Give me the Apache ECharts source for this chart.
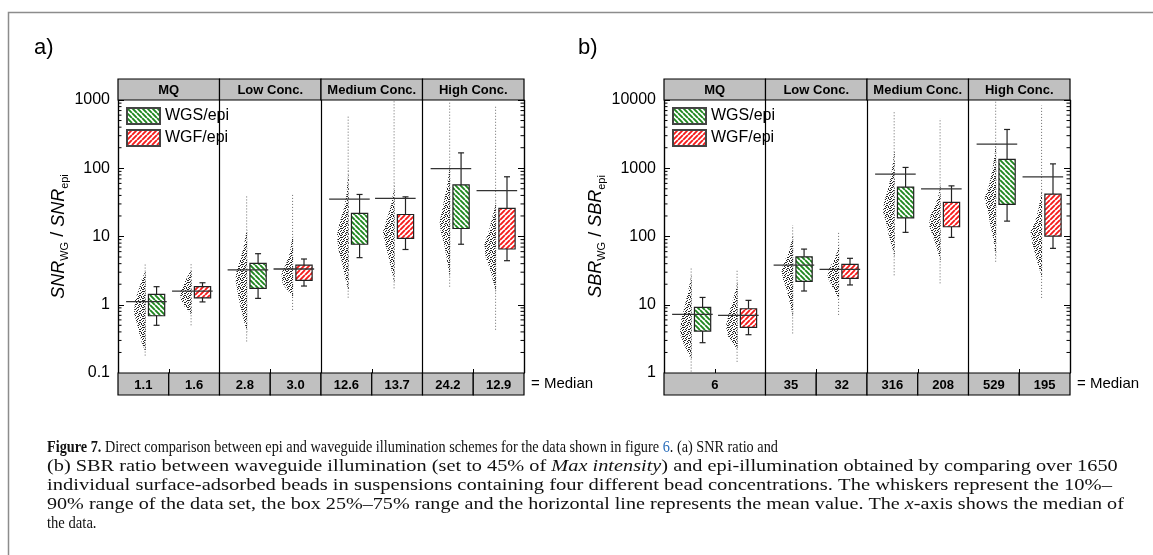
<!DOCTYPE html>
<html>
<head>
<meta charset="utf-8">
<title>Figure 7</title>
<script src="https://cdn.jsdelivr.net/npm/echarts@6/dist/echarts.min.js"></script>
<style>
html, body { margin: 0; padding: 0; background: #fff; }
#main { width: 1153px; height: 555px; }
</style>
</head>
<body>
<div id="main"></div>
<script>
/*****  data  *****/
var groups = ['MQ', 'Low Conc.', 'Medium Conc.', 'High Conc.'];
var names = ['WGS/epi', 'WGF/epi'];

// a) SNR ratio, per concentration: [10%, 25%, 75%, 90%]
var snrWGS = [[0.50, 0.69, 1.42, 1.84], [1.24, 1.74, 4.04, 5.6], [4.9, 7.7, 21.8, 41.3], [7.7, 13.1, 57, 168]];
var snrWGF = [[1.10, 1.26, 1.84, 2.10], [1.88, 2.28, 3.8, 4.68], [6.45, 9.4, 21.0, 38.1], [4.42, 6.56, 25.9, 75]];
var snrMeanWGS = [1.11, 3.25, 35.3, 99];
var snrMeanWGF = [1.58, 3.34, 36.1, 46.9];
var snrMedian = ['1.1', '1.6', '2.8', '3.0', '12.6', '13.7', '24.2', '12.9'];
var snrMedianCells = [[0, 1], [1, 2], [2, 3], [3, 4], [4, 5], [5, 6], [6, 7], [7, 8]];
// bead clouds: [min, max] and outline [value, relative width]
var snrTailWGS = [[0.18, 4.0], [0.29, 40], [1.27, 600], [1.84, 950]];
var snrTailWGF = [[0.5, 4.0], [0.84, 43], [1.74, 1000], [0.43, 800]];
var snrCloudWGS = [
	[[3.2, 0], [2.3, 0.35], [1.64, 0.6], [1.17, 0.9], [0.75, 1.0], [0.53, 0.75], [0.38, 0.55], [0.27, 0.3], [0.2, 0]],
	[[13, 0], [11, 0.1], [7.1, 0.3], [4.5, 0.6], [3.2, 0.9], [2.3, 1.0], [1.64, 0.85], [1.17, 0.7], [0.84, 0.5], [0.6, 0.3], [0.45, 0.1], [0.38, 0]],
	[[100, 0], [79, 0.05], [40, 0.2], [26, 0.4], [16.4, 0.75], [10.5, 1.0], [6.7, 0.9], [4.3, 0.6], [2.7, 0.35], [1.94, 0.15], [1.6, 0]],
	[[120, 0], [88, 0.1], [51, 0.3], [29, 0.6], [16.4, 0.9], [11.7, 0.8], [7.5, 0.5], [4.8, 0.3], [3.0, 0.1], [2.5, 0]]
];
var snrCloudWGF = [
	[[3.3, 0], [2.9, 0.2], [2.3, 0.5], [1.84, 0.8], [1.47, 1.0], [1.17, 0.9], [0.94, 0.6], [0.79, 0.2], [0.7, 0]],
	[[11, 0], [8.9, 0.1], [5.6, 0.3], [4.0, 0.6], [2.9, 1.0], [2.05, 0.9], [1.64, 0.5], [1.38, 0.1], [1.25, 0]],
	[[65, 0], [50, 0.05], [29, 0.3], [18.4, 0.65], [11.7, 1.0], [8.4, 0.85], [5.3, 0.55], [3.4, 0.3], [2.43, 0.1], [2.1, 0]],
	[[35, 0], [27, 0.1], [12.4, 0.6], [7.9, 1.0], [5.0, 0.9], [3.2, 0.5], [2.05, 0.2], [1.5, 0]]
];

// b) SBR ratio
var sbrWGS = [[2.78, 4.12, 9.16, 12.8], [15.9, 22, 50.4, 65.4], [115, 188, 529, 1028], [168, 295, 1346, 3700]];
var sbrWGF = [[3.64, 4.67, 8.74, 11.6], [19.5, 24.4, 39.1, 47.9], [97, 139, 316, 552], [67, 101, 418, 1159]];
var sbrMeanWGS = [7.23, 38.1, 820, 2254];
var sbrMeanWGF = [7.0, 33, 499, 748];
var sbrMedian = ['6', '35', '32', '316', '208', '529', '195'];
var sbrMedianCells = [[0, 2], [2, 3], [3, 4], [4, 5], [5, 6], [6, 7], [7, 8]];
var sbrTailWGS = [[1.05, 34], [3.8, 147], [27, 7000], [42.7, 9500]];
var sbrTailWGF = [[1.46, 32], [7.1, 117], [20.6, 5400], [12.6, 8300]];
var sbrCloudWGS = [
	[[28, 0], [23, 0.1], [14.7, 0.35], [9.4, 0.6], [6.0, 0.9], [3.8, 1.0], [2.7, 0.7], [1.94, 0.3], [1.5, 0]],
	[[110, 0], [89, 0.1], [63, 0.35], [45, 0.7], [32, 1.0], [23, 0.85], [16.4, 0.55], [11.7, 0.35], [8.4, 0.15], [6.5, 0]],
	[[2000, 0], [1390, 0.1], [793, 0.3], [506, 0.55], [322, 0.9], [230, 1.0], [164, 0.75], [105, 0.5], [67, 0.2], [50, 0]],
	[[2500, 0], [1740, 0.1], [993, 0.3], [566, 0.6], [361, 1.0], [230, 0.7], [147, 0.5], [94, 0.25], [60, 0.1], [50, 0]]
];
var sbrCloudWGF = [
	[[22, 0], [18.3, 0.1], [11.7, 0.4], [7.5, 0.75], [4.8, 1.0], [3.4, 0.8], [2.57, 0.3], [2.2, 0]],
	[[80, 0], [63, 0.1], [45, 0.45], [34, 0.85], [25.7, 1.0], [18.3, 0.6], [13.9, 0.2], [11.5, 0]],
	[[600, 0], [452, 0.1], [288, 0.45], [206, 0.85], [147, 1.0], [105, 0.7], [75, 0.4], [53, 0.15], [42, 0]],
	[[480, 0], [404, 0.1], [258, 0.3], [164, 0.6], [117, 1.0], [75, 0.8], [48, 0.5], [30, 0.15], [24, 0]]
];

/*****  styles  *****/
var FONT = 'Liberation Sans';
var SERIF = 'Liberation Serif';

function hatch(color, back) {
	var s = 5, c = document.createElement('canvas');
	c.width = c.height = s;
	var g = c.getContext('2d');
	g.fillStyle = '#fff';
	g.fillRect(0, 0, s, s);
	g.strokeStyle = color;
	g.lineWidth = 1.9;
	g.beginPath();
	for (var k = -s; k <= s; k += s) {
		if (back) { g.moveTo(k, 0); g.lineTo(k + s, s); }
		else { g.moveTo(k, s); g.lineTo(k + s, 0); }
	}
	g.stroke();
	return {image: c, repeat: 'repeat'};
}
// irregular dot texture for the bead clouds
function stipple() {
	var c = document.createElement('canvas');
	c.width = c.height = 9;
	var g = c.getContext('2d');
	g.fillStyle = '#262626';
	[[0, 0], [4, 0], [7, 1], [2, 1], [5, 2], [0, 3], [3, 3], [8, 3], [6, 4], [1, 5], [4, 5], [7, 6],
		[2, 6], [5, 7], [0, 7], [3, 8], [8, 8], [6, 0], [1, 2], [8, 5], [3, 1], [7, 3], [5, 5], [1, 7],
		[6, 8], [2, 4], [4, 7], [8, 1]]
		.forEach(function (p) { g.fillRect(p[0], p[1], 1, 1); });
	return {image: c, repeat: 'repeat'};
}
var greenFill = hatch('#1f871f', true);
var redFill = hatch('#f51c1c', false);
var dots = stipple();

// x positions inside a concentration block (block = 2 units)
var POS = [0.76, 1.665];

/*****  render helpers  *****/
function cloudRender(shapes) {
	return function (params, api) {
		var xc = api.value(0), lo = api.value(1), hi = api.value(2);
		var xr = api.coord([xc - 0.215, lo])[0];
		var wmax = api.coord([0.23, lo])[0] - api.coord([0, lo])[0];
		var pts = shapes[params.dataIndex].map(function (p) {
			return [xr - p[1] * wmax, api.coord([xc, p[0]])[1]];
		});
		return {
			type: 'group',
			children: [
				{type: 'line', shape: {x1: xr - 0.5, y1: api.coord([xc, lo])[1], x2: xr - 0.5, y2: api.coord([xc, hi])[1]},
					style: {stroke: '#6a6a6a', lineWidth: 1, lineDash: [1, 2]}},
				{type: 'polygon', shape: {points: pts}, style: {fill: dots, stroke: null}}
			]
		};
	};
}

function boxRender(fill) {
	return function (params, api) {
		var xc = api.value(0);
		var p10 = api.coord([xc, api.value(1)]);
		var p25 = api.coord([xc, api.value(2)]);
		var p75 = api.coord([xc, api.value(3)]);
		var p90 = api.coord([xc, api.value(4)]);
		var pm = api.coord([xc, api.value(5)]);
		var hw = api.coord([xc + 0.16, api.value(2)])[0] - p25[0];
		var ml = api.coord([xc - 0.6, api.value(5)])[0], mr = api.coord([xc + 0.2, api.value(5)])[0];
		var cx = p25[0], line = {stroke: '#222', lineWidth: 1.2};
		return {
			type: 'group',
			children: [
				{type: 'line', shape: {x1: cx, y1: p90[1], x2: cx, y2: p75[1]}, style: line},
				{type: 'line', shape: {x1: cx, y1: p25[1], x2: cx, y2: p10[1]}, style: line},
				{type: 'line', shape: {x1: cx - 3, y1: p90[1], x2: cx + 3, y2: p90[1]}, style: line},
				{type: 'line', shape: {x1: cx - 3, y1: p10[1], x2: cx + 3, y2: p10[1]}, style: line},
				{type: 'rect', shape: {x: cx - hw, y: p75[1], width: 2 * hw, height: p25[1] - p75[1]},
					style: {fill: fill, stroke: '#222', lineWidth: 1.2}},
				{type: 'line', shape: {x1: ml, y1: pm[1], x2: mr, y2: pm[1]}, style: {stroke: '#333', lineWidth: 1.3}}
			]
		};
	};
}

function minorRender(params, api) {
	var v = api.value(1);
	var l = api.coord([0, v]), r = api.coord([8, v]);
	return {
		type: 'group',
		children: [
			{type: 'line', shape: {x1: l[0], y1: l[1], x2: l[0] + 3.5, y2: l[1]}, style: {stroke: '#000', lineWidth: 1}},
			{type: 'line', shape: {x1: r[0] - 3.5, y1: r[1], x2: r[0], y2: r[1]}, style: {stroke: '#000', lineWidth: 1}}
		]
	};
}

function cellRender(labels) {
	return function (params, api) {
		var a = api.coord([api.value(0), 1]), b = api.coord([api.value(1), 0]);
		return {
			type: 'group',
			children: [
				{type: 'rect', shape: {x: a[0], y: a[1], width: b[0] - a[0], height: b[1] - a[1]},
					style: {fill: '#c0c0c0', stroke: '#000', lineWidth: 1.2}},
				{type: 'text', style: {text: labels[params.dataIndex], x: (a[0] + b[0]) / 2, y: (a[1] + b[1]) / 2 + 1,
					align: 'center', verticalAlign: 'middle', fontSize: 13, fontWeight: 'bold', fontFamily: FONT, fill: '#000'}}
			]
		};
	};
}

/*****  panels  *****/
var option = {
	animation: false,
	textStyle: {fontFamily: FONT},
	title: [
		{text: 'a)', left: 34, top: 37, padding: 0, textStyle: {fontSize: 22, fontWeight: 'normal', color: '#000', fontFamily: FONT}},
		{text: 'b)', left: 578, top: 37, padding: 0, textStyle: {fontSize: 22, fontWeight: 'normal', color: '#000', fontFamily: FONT}}
	],
	legend: [],
	grid: [], xAxis: [], yAxis: [], series: [],
	graphic: []
};

function addPanel(o, cfg) {
	var g = o.grid.length, xa = o.xAxis.length, ya = o.yAxis.length;
	var hidden = {axisLine: {show: false}, axisTick: {show: false}, axisLabel: {show: false}, splitLine: {show: false}};
	o.grid.push(
		{left: cfg.left, top: 100, width: 406, height: 273},
		{left: cfg.left, top: 79, width: 406, height: 21},
		{left: cfg.left, top: 373, width: 406, height: 22}
	);
	o.xAxis.push(
		{gridIndex: g, type: 'value', min: 0, max: 8, interval: 2,
			axisLine: {show: false}, axisLabel: {show: false},
			axisTick: {show: false, inside: true},
			minorTick: {show: true, splitNumber: 2, length: 4, lineStyle: {color: '#000'}},
			splitLine: {show: true, lineStyle: {color: '#000', width: 1.2}}},
		Object.assign({gridIndex: g + 1, type: 'value', min: 0, max: 4}, hidden),
		Object.assign({gridIndex: g + 2, type: 'value', min: 0, max: 8}, hidden)
	);
	var logAxis = {
		type: 'log', logBase: 10, min: cfg.min, max: cfg.max, splitLine: {show: false},
		axisLine: {show: true, lineStyle: {color: '#000', width: 1.2}},
		axisTick: {show: true, inside: true, length: 6, lineStyle: {color: '#000'}}
	};
	o.yAxis.push(
		Object.assign({
			gridIndex: g, position: 'left',
			axisLabel: {fontSize: 16, color: '#000', margin: 8, fontFamily: FONT,
				formatter: function (v) { return String(+v.toPrecision(6)); }},
			name: cfg.name, nameLocation: 'middle', nameRotate: 90, nameGap: cfg.nameGap,
			nameTextStyle: {rich: {
				m: {fontSize: 18, fontStyle: 'italic', fontFamily: FONT, color: '#000', lineHeight: 24},
				n: {fontSize: 18, fontFamily: FONT, color: '#000', lineHeight: 24},
				s: {fontSize: 11, fontFamily: FONT, color: '#000', lineHeight: 10, verticalAlign: 'bottom'}
			}}
		}, logAxis),
		Object.assign({gridIndex: g, position: 'right', axisLabel: {show: false}}, logAxis),
		Object.assign({gridIndex: g + 1, type: 'value', min: 0, max: 1}, hidden),
		Object.assign({gridIndex: g + 2, type: 'value', min: 0, max: 1}, hidden)
	);

	var minor = [];
	for (var e = Math.log10(cfg.min); e < Math.log10(cfg.max); e++) {
		for (var m = 2; m <= 9; m++) minor.push([0, m * Math.pow(10, e)]);
	}
	function boxData(rows, means, k) {
		return rows.map(function (r, i) { return [i * 2 + POS[k]].concat(r, [means[i]]); });
	}
	function cloudData(tails, k) {
		return tails.map(function (t, i) { return [i * 2 + POS[k], t[0], t[1]]; });
	}
	var base = {type: 'custom', xAxisIndex: xa, yAxisIndex: ya, clip: true, silent: true};
	o.series.push(
		Object.assign({}, base, {renderItem: cloudRender(cfg.cloudWGS), data: cloudData(cfg.tailWGS, 0), encode: {x: 0, y: [1, 2]}}),
		Object.assign({}, base, {renderItem: cloudRender(cfg.cloudWGF), data: cloudData(cfg.tailWGF, 1), encode: {x: 0, y: [1, 2]}}),
		Object.assign({}, base, {renderItem: minorRender, data: minor, encode: {x: 0, y: 1}}),
		Object.assign({}, base, {name: names[0], renderItem: boxRender(greenFill),
			itemStyle: {color: greenFill, borderColor: '#444', borderWidth: 1.2},
			data: boxData(cfg.wgs, cfg.meanWGS, 0), encode: {x: 0, y: [1, 2, 3, 4, 5]}}),
		Object.assign({}, base, {name: names[1], renderItem: boxRender(redFill),
			itemStyle: {color: redFill, borderColor: '#444', borderWidth: 1.2},
			data: boxData(cfg.wgf, cfg.meanWGF, 1), encode: {x: 0, y: [1, 2, 3, 4, 5]}}),
		{type: 'custom', xAxisIndex: xa + 1, yAxisIndex: ya + 2, silent: true, renderItem: cellRender(groups),
			data: groups.map(function (s, i) { return [i, i + 1]; }), encode: {x: [0, 1]}},
		{type: 'custom', xAxisIndex: xa + 2, yAxisIndex: ya + 3, silent: true, renderItem: cellRender(cfg.median),
			data: cfg.cells, encode: {x: [0, 1]}}
	);
	o.legend.push({
		left: cfg.left + 8, top: 107, orient: 'vertical', padding: 0, itemGap: 4,
		itemWidth: 33, itemHeight: 16, icon: 'rect', selectedMode: false,
		data: names, textStyle: {fontSize: 16, color: '#000', fontFamily: FONT}
	});
	o.graphic.push({type: 'text', left: cfg.left + 413, top: 376,
		style: {text: '= Median', fontSize: 15, fontFamily: FONT, fill: '#000'}});
}

addPanel(option, {
	left: 118, min: 0.1, max: 1000, nameGap: 47,
	name: '{m|SNR}{s|WG}{n| / }{m|SNR}{s|epi}',
	wgs: snrWGS, wgf: snrWGF, meanWGS: snrMeanWGS, meanWGF: snrMeanWGF,
	tailWGS: snrTailWGS, tailWGF: snrTailWGF, cloudWGS: snrCloudWGS, cloudWGF: snrCloudWGF,
	median: snrMedian, cells: snrMedianCells
});
addPanel(option, {
	left: 664, min: 1, max: 10000, nameGap: 56,
	name: '{m|SBR}{s|WG}{n| / }{m|SBR}{s|epi}',
	wgs: sbrWGS, wgf: sbrWGF, meanWGS: sbrMeanWGS, meanWGF: sbrMeanWGF,
	tailWGS: sbrTailWGS, tailWGF: sbrTailWGF, cloudWGS: sbrCloudWGS, cloudWGF: sbrCloudWGF,
	median: sbrMedian, cells: sbrMedianCells
});

/*****  frame + caption  *****/
option.graphic.push({type: 'rect', shape: {x: 8.5, y: 12.5, width: 1200, height: 600}, silent: true,
	style: {fill: 'none', stroke: '#8c8c8c', lineWidth: 1.5}, z: -1});

var caption = [
	'{b|Figure 7.} Direct comparison between epi and waveguide illumination schemes for the data shown in figure {l|6}. (a) SNR ratio and',
	'(b) SBR ratio between waveguide illumination (set to 45% of {i|Max intensity}) and epi-illumination obtained by comparing over 1650',
	'individual surface-adsorbed beads in suspensions containing four different bead concentrations. The whiskers represent the 10%\u2013',
	'90% range of the data set, the box 25%\u201375% range and the horizontal line represents the mean value. The {i|x}-axis shows the median of',
	'the data.'
];
// printed length of each caption line (0 = natural)
var captionWidth = [728, 1073, 1065, 1078, 0];
var measure = document.createElement('canvas').getContext('2d');
measure.font = '17px "' + SERIF + '"';
caption.forEach(function (t, i) {
	var plain = t.replace(/\{[a-z]\|([^}]*)\}/g, '$1');
	var sx = captionWidth[i] ? captionWidth[i] / measure.measureText(plain).width : 0.86;
	option.graphic.push({type: 'text', x: 47, y: 448 + i * 19, scaleX: sx, silent: true,
		style: {text: t, fontSize: 17, fontFamily: SERIF, fill: '#111', verticalAlign: 'middle',
			rich: {
				b: {fontSize: 17, fontFamily: SERIF, fontWeight: 'bold', fill: '#111'},
				i: {fontSize: 17, fontFamily: SERIF, fontStyle: 'italic', fill: '#111'},
				l: {fontSize: 17, fontFamily: SERIF, fill: '#2a6ebb'}
			}}});
});

var chart = echarts.init(document.getElementById('main'));
chart.setOption(option);
</script>
</body>
</html>
